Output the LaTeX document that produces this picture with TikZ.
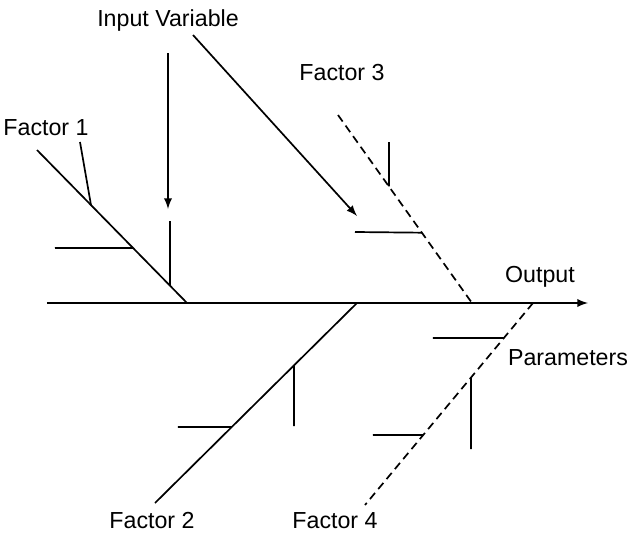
\documentclass[tikz,border=0pt]{standalone}
\usepackage{fontspec}
\setmainfont{Liberation Sans}
\usetikzlibrary{calc}

\begin{document}
\begin{tikzpicture}[x=0.5pt, y=-0.5pt, >=latex,
  lbl/.style={inner sep=0pt, font=\fontsize{11.6}{14}\selectfont},
  bone/.style={line width=0.85pt},
  dbone/.style={line width=0.85pt, dash pattern=on 4pt off 2.5pt}]
\useasboundingbox (0,0) rectangle (629,536);
% labels
\node[lbl] (input) at (168,20) {Input Variable};
\node[lbl] (f1) at (46,128) {Factor 1};
\node[lbl] (f3) at (342,73) {Factor 3};
\node[lbl] (out) at (540,277) {Output};
\node[lbl] (par) at (568,358) {Parameters};
\node[lbl] (f2) at (152,521) {Factor 2};
\node[lbl] (f4) at (335,521) {Factor 4};
% spine
\coordinate (tail) at (47,303);
\coordinate (head) at (588,303);
\draw[->, bone] (tail) -- (head);
% factor 1
\coordinate (f1a) at (37,150);
\coordinate (f1b) at (187,303);
\draw[bone] (f1a) -- (f1b);
\draw[bone] (80,142) -- ($(f1a)!0.36!(f1b)$);
\draw[bone] (55,248) -- ($(f1a)!0.64!(f1b)$);
\draw[bone] (170,221) -- ($(f1a)!0.887!(f1b)$);
% factor 3
\coordinate (f3a) at (338,115);
\coordinate (f3b) at (472,303);
\draw[dbone] (f3a) -- (f3b);
\draw[bone] (389,142) -- ($(f3a)!0.38!(f3b)$);
\draw[bone] (355,232) -- ($(f3a)!0.626!(f3b)$);
% factor 2
\coordinate (f2a) at (357,303);
\coordinate (f2b) at (155,503);
\draw[bone] (f2a) -- (f2b);
\draw[bone] (294,426) -- ($(f2a)!0.312!(f2b)$);
\draw[bone] (178,427) -- ($(f2a)!0.62!(f2b)$);
% factor 4
\coordinate (f4a) at (533,303);
\coordinate (f4b) at (365,505);
\draw[dbone] (f4a) -- (f4b);
\draw[bone] (433,338) -- ($(f4a)!0.173!(f4b)$);
\draw[bone] (471,449) -- ($(f4a)!0.369!(f4b)$);
\draw[bone] (373,435) -- ($(f4a)!0.653!(f4b)$);
% input variable arrows
\coordinate (iv1) at (168,53);
\coordinate (iv1e) at (168,209);
\coordinate (iv2) at (193,35);
\coordinate (iv2e) at (357,216);
\draw[->, bone] (iv1) -- (iv1e);
\draw[->, bone] (iv2) -- (iv2e);
\end{tikzpicture}
\end{document}
